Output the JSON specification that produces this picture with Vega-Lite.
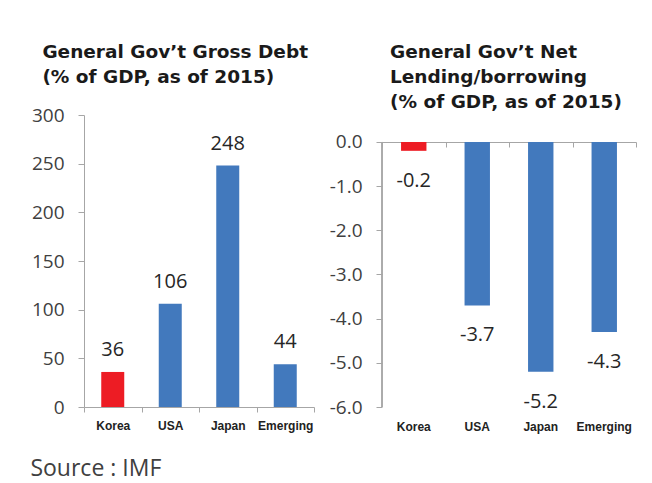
{
  "$schema": "https://vega.github.io/schema/vega-lite/v6.json",
  "padding": {"left": 30, "top": 42, "right": 5, "bottom": 5},
  "background": "white",
  "config": {
    "font": "Open Sans",
    "view": {"stroke": null},
    "concat": {"spacing": 14},
    "axis": {"grid": false, "domainColor": "#A6A6A6", "tickColor": "#A6A6A6", "title": null}
  },
  "title": {"text": "Source : IMF", "orient": "bottom", "anchor": "start", "frame": "bounds", "fontSize": 23, "fontWeight": "normal", "color": "#404040", "offset": 26, "dx": -1},
  "hconcat": [
    {
      "width": 230,
      "height": 292,
      "title": {"text": ["General Gov’t Gross Debt", "(% of GDP, as of 2015)"], "anchor": "start", "frame": "bounds", "dx": 11, "font": "DejaVu Sans", "fontSize": 18.5, "fontWeight": "bold", "color": "#1a1a1a", "lineHeight": 25, "offset": 20},
      "data": {"values": [
        {"country": "Korea", "value": 36},
        {"country": "USA", "value": 106},
        {"country": "Japan", "value": 248},
        {"country": "Emerging", "value": 44}
      ]},
      "encoding": {
        "x": {"field": "country", "type": "nominal", "sort": null,
          "scale": {"paddingInner": 0, "paddingOuter": 0},
          "axis": {"labelAngle": 0, "tickBand": "extent", "tickSize": 5, "labelFont": "Liberation Sans", "labelFontWeight": "bold", "labelFontSize": 12, "labelColor": "#222222", "labelPadding": 8}},
        "y": {"field": "value", "type": "quantitative",
          "scale": {"domain": [0, 300], "nice": false},
          "axis": {"values": [0, 50, 100, 150, 200, 250, 300], "tickSize": 6, "labelFontSize": 19, "labelColor": "#404040", "labelPadding": 14}}
      },
      "layer": [
        {"mark": {"type": "bar", "width": {"band": 0.4}},
         "encoding": {"color": {"field": "country", "type": "nominal", "scale": {"domain": ["Korea", "USA", "Japan", "Emerging"], "range": ["#ED1C24", "#4279BD", "#4279BD", "#4279BD"]}, "legend": null}}},
        {"mark": {"type": "text", "baseline": "alphabetic", "dy": -16, "fontSize": 20, "color": "#262626"},
         "encoding": {"text": {"field": "value", "type": "quantitative"}}}
      ]
    },
    {
      "width": 254,
      "height": 292,
      "title": {"text": ["General Gov’t Net", "Lending/borrowing", "(% of GDP, as of 2015)"], "anchor": "start", "frame": "group", "dx": 8, "font": "DejaVu Sans", "fontSize": 18.5, "fontWeight": "bold", "color": "#1a1a1a", "lineHeight": 25, "offset": 4},
      "data": {"values": [
        {"country": "Korea", "value": -0.2},
        {"country": "USA", "value": -3.7},
        {"country": "Japan", "value": -5.2},
        {"country": "Emerging", "value": -4.3}
      ]},
      "transform": [{"calculate": "replace(format(datum.value, '.1f'), '\u2212', '-')", "as": "label"}],
      "resolve": {"axis": {"x": "independent"}},
      "layer": [
        {"mark": {"type": "bar", "width": {"band": 0.4}},
         "encoding": {
           "x": {"field": "country", "type": "nominal", "sort": null,
             "scale": {"paddingInner": 0, "paddingOuter": 0},
             "axis": {"orient": "bottom", "labelAngle": 0, "domain": false, "ticks": false, "tickSize": 0, "labelFont": "Liberation Sans", "labelFontWeight": "bold", "labelFontSize": 12, "labelColor": "#222222", "labelPadding": 14}},
           "y": {"field": "value", "type": "quantitative",
             "scale": {"domain": [-6, 0.611], "nice": false, "zero": false},
             "axis": {"values": [0, -1, -2, -3, -4, -5, -6], "domain": false, "tickSize": 6, "labelFontSize": 19, "labelColor": "#404040", "labelPadding": 14, "labelExpr": "replace(format(datum.value, '.1f'), '\u2212', '-')"}},
           "color": {"field": "country", "type": "nominal", "scale": {"domain": ["Korea", "USA", "Japan", "Emerging"], "range": ["#ED1C24", "#4279BD", "#4279BD", "#4279BD"]}, "legend": null}}},
        {"mark": {"type": "rule", "color": "#A6A6A6"},
         "encoding": {
           "x": {"datum": "Korea", "type": "nominal", "bandPosition": 0, "axis": null},
           "y": {"datum": 0, "type": "quantitative"},
           "y2": {"datum": -6}}},
        {"mark": {"type": "text", "baseline": "alphabetic", "dy": 36, "fontSize": 20, "color": "#262626"},
         "encoding": {
           "x": {"field": "country", "type": "nominal", "sort": null, "axis": {"orient": "top", "offset": -27, "labels": false, "domain": true, "ticks": true, "tickBand": "extent", "tickSize": -5}},
           "y": {"field": "value", "type": "quantitative"},
           "text": {"field": "label", "type": "nominal"}}}
      ]
    }
  ]
}
